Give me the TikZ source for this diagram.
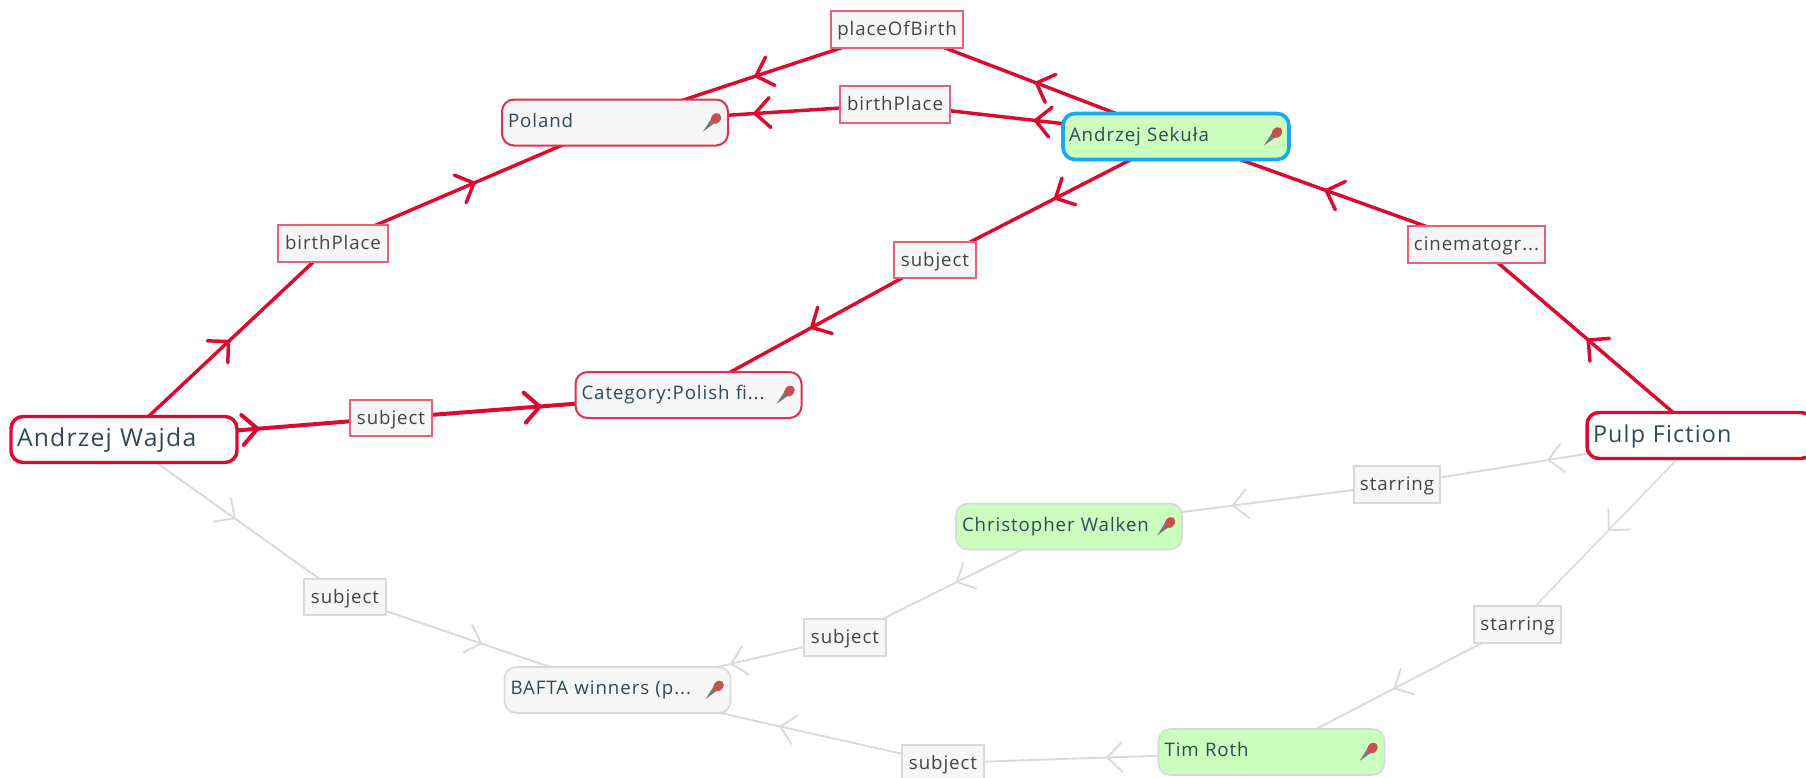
\documentclass[tikz,border=0pt]{standalone}
\usepackage{fontspec}
\setmainfont[LetterSpace=5]{Open Sans}
\usetikzlibrary{decorations.markings,backgrounds}
\definecolor{redline}{HTML}{DC0A30}
\definecolor{redsoft}{HTML}{E8607C}
\definecolor{blueline}{HTML}{1AA8F5}
\definecolor{greyline}{HTML}{D9D9D9}
\definecolor{panel}{HTML}{F7F7F7}
\definecolor{greenfill}{HTML}{CCFFBE}
\definecolor{inktext}{HTML}{2E4A55}
\definecolor{labeltext}{HTML}{444444}
\definecolor{pinred}{HTML}{C9504E}
\definecolor{pingrey}{HTML}{7A7A7A}
\newcommand{\pinat}[1]{%
  \fill[pingrey] ([shift={(97,-5)}]#1.center) -- ([shift={(88,9)}]#1.center) -- ([shift={(102,-1)}]#1.center) -- cycle;
  \fill[pinred,shift={(#1.center)},shift={(101,-4)},rotate=50] (0,0) ellipse[x radius=4.4pt,y radius=3.5pt];
}
\tikzset{
  x=0.75pt,y=-0.75pt,
  basebox/.style={draw,rounded corners=9pt,inner xsep=4.5pt,inner ysep=0pt,align=left,
    minimum height=34.5pt,minimum width=169.5pt,text width=160.5pt,text height=10.4pt,text depth=3pt,
    text=inktext,font=\fontsize{14}{16}\selectfont},
  greybox/.style={basebox,draw=greyline,line width=1.3pt,fill=panel},
  redbox/.style={basebox,line width=1.5pt,fill=panel,draw=redline!85!white},
  greenbox/.style={basebox,draw=greyline,line width=1.3pt,fill=greenfill},
  focusbox/.style={basebox,draw=blueline,line width=2.7pt,fill=greenfill},
  endbox/.style={basebox,draw=redline,line width=2.6pt,fill=white,text height=14pt,text depth=3.5pt,font=\fontsize{18.5}{21}\selectfont},
  edgelabel/.style={draw,inner sep=0pt,fill=panel,minimum height=27.5pt,text height=11pt,text depth=2pt,text=labeltext,font=\fontsize{14}{16}\selectfont},
  redlabel/.style={edgelabel,draw=redsoft,line width=1.6pt},
  greylabel/.style={edgelabel,draw=greyline,line width=1.3pt},
  chevstroke/.style={line cap=round,line join=miter},
  rededge/.style={draw=redline,line width=2.6pt,
    postaction={decorate},decoration={markings,mark=at position .5 with {\draw[redline,line width=2.6pt,chevstroke] (-15,-15) -- (0,0) -- (-15,15);}}},
  thickedge/.style={draw=redline,line width=3pt,
    postaction={decorate},decoration={markings,mark=at position .5 with {\draw[redline,line width=3pt,chevstroke] (-15,-15) -- (0,0) -- (-15,15);}}},
  greyedge/.style={draw=greyline,line width=1.4pt,
    postaction={decorate},decoration={markings,mark=at position .5 with {\draw[greyline,line width=1.4pt,chevstroke] (-14.5,-14.5) -- (0,0) -- (-14.5,14.5);}}},
}
\begin{document}
\begin{tikzpicture}
\useasboundingbox (0,0) rectangle (1806,778);
\begin{scope}
\clip (0,0) rectangle (1806,778);
% entity nodes
\node[endbox]   (wajda)  at (124,439.5) {Andrzej Wajda};
\node[endbox,font=\fontsize{17.5}{21}\selectfont] (pulp) at (1700,435.5) {Pulp Fiction};
\node[redbox]   (poland) at (615,122.5) {Poland};
\node[redbox]   (cat)    at (688.5,395) {Category:Polish fi...};
\node[focusbox] (sekula) at (1176,136.5) {Andrzej Sekuła};
\node[greenbox] (walken) at (1069,526.5) {Christopher Walken};
\node[greenbox] (roth)   at (1271.5,752) {Tim Roth};
\node[greybox]  (bafta)  at (617.5,690) {BAFTA winners (p...};
% edge labels
\node[redlabel,minimum width=99pt]    (lpob)  at (897,29.5)   {placeOfBirth};
\node[redlabel,minimum width=82.5pt]  (lbpa)  at (895,104.5)  {birthPlace};
\node[redlabel,minimum width=82.5pt]  (lbpb)  at (333,243.5)  {birthPlace};
\node[redlabel,minimum width=61.5pt]  (lsa)   at (391,418)    {subject};
\node[redlabel,minimum width=61.5pt]  (lsb)   at (935,260)    {subject};
\node[redlabel,minimum width=103pt]   (lcin)  at (1476.5,244.5) {cinematogr...};
\node[greylabel,minimum width=61.5pt] (lsc)   at (345,597)    {subject};
\node[greylabel,minimum width=61.5pt] (lsd)   at (845,637.5)  {subject};
\node[greylabel,minimum width=61.5pt] (lse)   at (943,763)    {subject};
\node[greylabel,minimum width=65pt]   (lsta)  at (1397,484.5) {starring};
\node[greylabel,minimum width=65pt]   (lstb)  at (1517.5,624.5) {starring};
\foreach \n in {poland,cat,sekula,walken,roth,bafta}{\pinat{\n}}
\end{scope}
\begin{pgfonlayer}{background}
\draw[rededge]   (wajda.center) -- (lbpb.center);
\draw[rededge]   (lbpb.center) -- (poland.center);
\draw[thickedge] (wajda.center) -- (lsa.center);
\draw[thickedge] (lsa.center) -- (cat.center);
\draw[rededge]   (sekula.center) -- (lpob.center);
\draw[rededge]   (lpob.center) -- (poland.center);
\draw[rededge]   (sekula.center) -- (lbpa.center);
\draw[rededge]   (lbpa.center) -- (poland.center);
\draw[rededge]   (sekula.center) -- (lsb.center);
\draw[rededge]   (lsb.center) -- (cat.center);
\draw[rededge]   (pulp.center) -- (lcin.center);
\draw[rededge]   (lcin.center) -- (sekula.center);
\draw[greyedge]  (wajda.center) -- (lsc.center);
\draw[greyedge]  (lsc.center) -- (bafta.center);
\draw[greyedge]  (walken.center) -- (lsd.center);
\draw[greyedge]  (lsd.center) -- (bafta.center);
\draw[greyedge]  (roth.center) -- (lse.center);
\draw[greyedge]  (lse.center) -- (bafta.center);
\draw[greyedge]  (pulp.center) -- (lsta.center);
\draw[greyedge]  (lsta.center) -- (walken.center);
\draw[greyedge,line width=1.1pt]  (pulp.center) -- (lstb.center);
\draw[greyedge]  (lstb.center) -- (roth.center);
\end{pgfonlayer}
\end{tikzpicture}
\end{document}
